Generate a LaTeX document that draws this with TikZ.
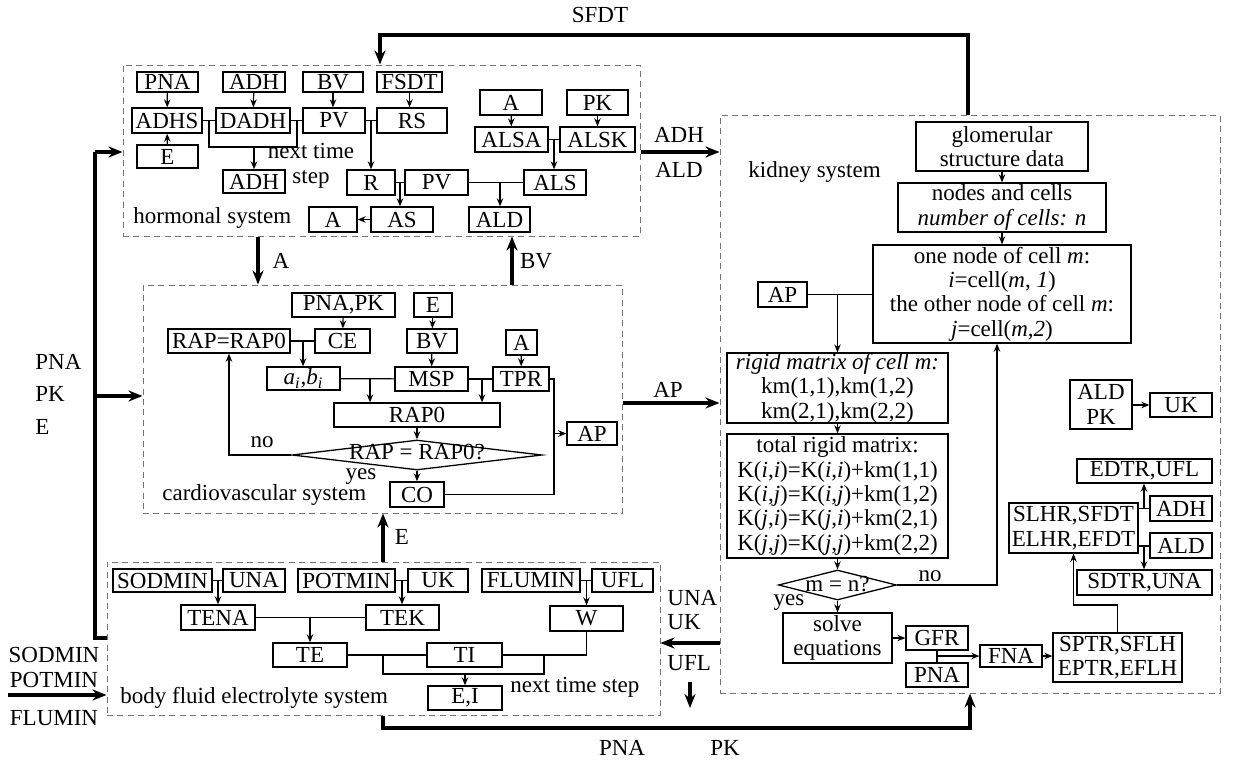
\documentclass[tikz,border=0pt]{standalone}
\usepackage{fontspec}
\setmainfont{Liberation Serif}
\usetikzlibrary{arrows.meta,shapes.geometric}
\newcommand\bx[6]{\node[bx, minimum width={(#4-#2)*0.5pt}, minimum height={(#5-#3)*0.5pt}] (#1) at ({(#2+#4)/2},{(#3+#5)/2}) {#6};}
\newcommand\fr[5]{\node[dbox, minimum width={(#4-#2)*0.5pt}, minimum height={(#5-#3)*0.5pt}] (#1) at ({(#2+#4)/2},{(#3+#5)/2}) {};}
\newcommand\ti[1]{\textit{#1}}
\begin{document}
\begin{tikzpicture}[x=0.5pt,y=-0.5pt,
  font=\fontsize{11.5}{12.2}\selectfont,
  bx/.style={draw, line width=0.65pt, inner sep=0pt, align=center},
  dbox/.style={draw=black!55, dash pattern=on 3pt off 2.2pt, line width=0.5pt, inner sep=0pt},
  ln/.style={line width=0.6pt},
  ar/.style={line width=0.6pt, -{Stealth[length=4pt,width=3.2pt]}},
  thk/.style={line width=1.9pt},
  tar/.style={line width=1.9pt, -{Stealth[length=7pt,width=5.5pt]}},
  lab/.style={inner sep=0pt, align=left}]
\useasboundingbox[fill=white] (0,0) rectangle (1242,766);

% ---------- frames ----------
\fr{hs}{123}{65}{640}{236}
\fr{cs}{143}{285}{622}{513}
\fr{bs}{107}{562}{660}{715}
\fr{ks}{720}{115}{1220}{693}

% ---------- hormonal system ----------
\bx{hPNA}{137}{72}{198}{92}{PNA}
\bx{hADH}{223}{72}{285}{92}{ADH}
\bx{hBV}{303}{72}{363}{92}{BV}
\bx{hFSDT}{377}{72}{442}{92}{FSDT}
\bx{hADHS}{132}{108}{202}{133}{ADHS}
\bx{hDADH}{216}{108}{290}{133}{DADH}
\bx{hPV}{303}{108}{365}{133}{PV}
\bx{hRS}{377}{108}{447}{133}{RS}
\bx{hE}{137}{145}{198}{168}{E}
\bx{hADHn}{223}{170}{285}{193}{ADH}
\bx{hR}{347}{170}{395}{195}{R}
\bx{hPVb}{405}{170}{468}{195}{PV}
\bx{hAS}{371}{207}{433}{232}{AS}
\bx{hA}{309}{207}{357}{232}{A}
\bx{hAt}{480}{90}{542}{115}{A}
\bx{hPK}{567}{90}{628}{115}{PK}
\bx{hALSA}{475}{127}{548}{152}{ALSA}
\bx{hALSK}{560}{127}{635}{152}{ALSK}
\bx{hALS}{524}{170}{586}{195}{ALS}
\bx{hALD}{469}{207}{530}{232}{ALD}
\node[lab, align=center] (hnext) at (311,166) {next time\\step};
\node[lab, anchor=west] (hname) at (133,218) {hormonal system};

\draw[ar] (hPNA) -- (hADHS);
\draw[ar] (hE) -- (hADHS);
\draw[ar] (hADH) -- (hDADH);
\draw[ar] (hBV.south) -- (hBV.south |- hPV.north);
\draw[ar] (hFSDT.south) -- (hFSDT.south |- hRS.north);
\draw[ln] (hADHS) -- (hDADH);
\draw[ln] (hDADH) -- (hPV);
\coordinate (hj1) at (209,120); \coordinate (hj2) at (297,120);
\draw[ln] (hj1) -- (209,147) -- (297,147) -- (hj2);
\draw[ar] (hADHn.north |- 0,147) -- (hADHn.north);
\draw[ln] (hPV) -- (hRS);
\coordinate (hj3) at (371,120);
\draw[ar] (hj3) -- (hR.north);
\draw[ln] (hR) -- (hPVb);
\coordinate (hj4) at (400,183);
\draw[ar] (hj4) -- (hAS.north -| hj4);
\draw[ar] (hAS) -- (hA);
\draw[ar] (hAt) -- (hALSA);
\draw[ar] (hPK) -- (hALSK);
\draw[ln] (hALSA) -- (hALSK);
\coordinate (hj5) at (554,140);
\draw[ar] (hj5) -- (hALS.north -| hj5);
\draw[ln] (hPVb) -- (hALS);
\coordinate (hj6) at (500,183);
\draw[ar] (hj6) -- (hALD.north -| hj6);

% ---------- cardiovascular system ----------
\bx{cPNAPK}{292}{293}{395}{317}{PNA,PK}
\bx{cCE}{315}{329}{370}{353}{CE}
\bx{cRAP}{168}{329}{290}{353}{RAP=RAP0}
\bx{cab}{267}{367}{340}{390}{\ti{a}\textsubscript{\ti{i}},\ti{b}\textsubscript{\ti{i}}}
\bx{cRAP0}{334}{403}{500}{427}{RAP0}
\bx{cE}{414}{293}{452}{317}{E}
\bx{cBV}{407}{329}{457}{353}{BV}
\bx{cMSP}{395}{367}{468}{391}{MSP}
\bx{cA}{506}{330}{537}{355}{A}
\bx{cTPR}{493}{367}{549}{391}{TPR}
\bx{cAP}{567}{422}{617}{445}{AP}
\bx{cCO}{390}{482}{444}{507}{CO}
\node[draw, diamond, line width=0.65pt, inner sep=0pt, minimum width=125pt, minimum height=15pt] (cD) at (417,455) {};
\node[lab] (cDt) at (417,452) {RAP = RAP0?};
\node[lab] (cno) at (262,442) {no};
\node[lab] (cyes) at (361,477) {yes};
\node[lab, anchor=west] (cname) at (162,495) {cardiovascular system};

\draw[ar] (cPNAPK) -- (cCE);
\draw[ar] (cE) -- (cBV);
\draw[ar] (cBV) -- (cMSP);
\draw[ar] (cA) -- (cTPR);
\draw[ln] (cRAP) -- (cCE);
\coordinate (cj1) at (303,341);
\draw[ar] (cj1) -- (cab.north -| cj1);
\draw[ln] (cab) -- (cMSP);
\coordinate (cj2) at (370,378);
\draw[ar] (cj2) -- (cRAP0.north -| cj2);
\draw[ln] (cMSP) -- (cTPR);
\coordinate (cj3) at (482,379);
\draw[ar] (cj3) -- (cRAP0.north -| cj3);
\draw[ar] (cRAP0) -- (cD);
\draw[ar] (cD) -- (cCO);
\draw[ar] (cD.west) -| (cRAP.south);
\draw[ln] (cTPR.east) -- (554,379) -- (554,494.5) -- (cCO.east);
\coordinate (cj4) at (554,433.5);
\draw[ar] (cj4) -- (cAP.west);

% ---------- body fluid electrolyte system ----------
\bx{bSOD}{113}{569}{212}{592}{SODMIN}
\bx{bUNA}{223}{569}{285}{592}{UNA}
\bx{bPOT}{298}{569}{395}{592}{POTMIN}
\bx{bUK}{408}{569}{468}{592}{UK}
\bx{bFLU}{482}{569}{580}{592}{FLUMIN}
\bx{bUFL}{592}{569}{653}{592}{UFL}
\bx{bTENA}{181}{605}{255}{630}{TENA}
\bx{bTEK}{366}{605}{439}{630}{TEK}
\bx{bW}{550}{606}{623}{631}{W}
\bx{bTE}{273}{643}{347}{667}{TE}
\bx{bTI}{427}{643}{502}{667}{TI}
\bx{bEI}{428}{686}{502}{710}{E,I}
\node[lab, anchor=west] (bname) at (120,698) {body fluid electrolyte system};
\node[lab, anchor=west] (bnext) at (510,687) {next time step};

\draw[ln] (bSOD) -- (bUNA);
\coordinate (bj1) at (218,580.5);
\draw[ar] (bj1) -- (bTENA.north);
\draw[ln] (bPOT) -- (bUK);
\coordinate (bj2) at (402,580.5);
\draw[ar] (bj2) -- (bTEK.north -| bj2);
\draw[ln] (bFLU) -- (bUFL);
\coordinate (bj3) at (586.5,580.5);
\draw[ar] (bj3) -- (bW.north);
\draw[ln] (bTENA) -- (bTEK);
\coordinate (bj4) at (310,617.5);
\draw[ar] (bj4) -- (bTE.north);
\draw[ln] (bTE) -- (bTI);
\draw[ln] (bW.south) -- (586.5,655) -- (bTI.east);
\draw[ln] (383,655) -- (383,674) -- (544,674) -- (544,655);
\coordinate (bj5) at (465,674);
\draw[ar] (bj5) -- (bEI.north);

% ---------- kidney system ----------
\bx{kGlo}{916}{122}{1088}{171}{glomerular\\structure data}
\bx{kNod}{898}{183}{1106}{232}{nodes and cells\\\ti{number of cells: n}}
\bx{kOne}{873}{245}{1131}{343}{one node of cell \ti{m}:\\\ti{i}=cell(\ti{m}, \ti{1})\\the other node of cell \ti{m}:\\\ti{j}=cell(\ti{m},\ti{2})}
\bx{kAP}{758}{282}{807}{307}{AP}
\bx{kRig}{727}{355}{948}{421}{\ti{rigid matrix of cell m:}\\km(1,1),km(1,2)\\km(2,1),km(2,2)}
\bx{kTot}{727}{434}{948}{558}{total rigid matrix:\\K(\ti{i},\ti{i})=K(\ti{i},\ti{i})+km(1,1)\\K(\ti{i},\ti{j})=K(\ti{i},\ti{j})+km(1,2)\\K(\ti{j},\ti{i})=K(\ti{j},\ti{i})+km(2,1)\\K(\ti{j},\ti{j})=K(\ti{j},\ti{j})+km(2,2)}
\node[draw, diamond, line width=0.65pt, inner sep=0pt, minimum width=59pt, minimum height=15pt] (kD) at (837.5,585) {};
\node[lab] (kDt) at (837.5,584) {m = n?};
\node[lab] (kno) at (930,576) {no};
\node[lab] (kyes) at (789,603) {yes};
\bx{kSol}{783}{613}{892}{663}{solve\\equations}
\bx{kGFR}{906}{626}{968}{650}{GFR}
\bx{kPNA}{906}{663}{968}{687}{PNA}
\bx{kFNA}{980}{645}{1042}{667}{FNA}
\bx{kSP}{1053}{633}{1182}{682}{SPTR,SFLH\\EPTR,EFLH}
\bx{kSL}{1009}{503}{1138}{553}{SLHR,SFDT\\ELHR,EFDT}
\bx{kED}{1077}{459}{1212}{483}{EDTR,UFL}
\bx{kADH}{1150}{496}{1212}{521}{ADH}
\bx{kALD}{1150}{533}{1212}{558}{ALD}
\bx{kSD}{1077}{570}{1212}{595}{SDTR,UNA}
\bx{kALDPK}{1070}{380}{1132}{429}{ALD\\PK}
\bx{kUK}{1150}{393}{1212}{417}{UK}
\node[lab, anchor=west] (kname) at (748,172) {kidney system};

\draw[ar] (kGlo.south) -- (kGlo.south |- kNod.north);
\draw[ar] (kNod.south) -- (kNod.south |- kOne.north);
\draw[ln] (kAP.east) -- (kAP.east -| kOne.west);
\coordinate (kj1) at (837.5,294.5);
\draw[ar] (kj1) -- (kRig.north);
\draw[ar] (kRig) -- (kTot);
\draw[ar] (kTot) -- (kD);
\draw[ar] (kD) -- (kSol);
\draw[ar] (kD.east) -- (997,585) -- (kOne.south -| 997,0);
\draw[ar] (kSol.east |- kGFR.west) -- (kGFR.west);
\draw[ln] (kGFR) -- (kPNA);
\coordinate (kj2) at (937,656);
\draw[ar] (kj2) -- (kFNA.west);
\draw[ar] (kFNA.east) -- (kFNA.east -| kSP.west);
\draw[ar] (kSP.north) -- (1117.5,605) -- (1073.5,605) -- (kSL.south);
\draw[ln] (kSL.east |- kADH.west) -- (kADH.west);
\coordinate (kj3) at (1144,508.5);
\draw[ar] (kj3) -- (kED.south -| kj3);
\draw[ln] (kSL.east |- 0,546) -- (kALD.west |- 0,546);
\coordinate (kj4) at (1144,546);
\draw[ar] (kj4) -- (kSD.north -| kj4);
\draw[ar] (kALDPK.east |- kUK.west) -- (kUK.west);

% ---------- connections between systems ----------
\draw[tar] (hs.south -| 258,0) -- (cs.north -| 258,0);
\node[lab] (lA) at (281,261) {A};
\draw[tar] (cs.north -| 512,0) -- (hs.south -| 512,0);
\node[lab] (lBV) at (536,261) {BV};
\draw[tar] (bs.north -| 383,0) -- (cs.south -| 383,0);
\node[lab] (lE) at (402,537) {E};
\draw[tar] (cs.east |- 0,403) -- (ks.west |- 0,403);
\node[lab] (lAP) at (668,390) {AP};
\draw[tar] (hs.east |- 0,152) -- (ks.west |- 0,152);
\node[lab] (lADH) at (679,135) {ADH};
\node[lab] (lALD) at (679,170) {ALD};
\draw[tar] (ks.west |- 0,643) -- (bs.east |- 0,643);
\node[lab, anchor=west] (lUNA) at (667,598) {UNA};
\node[lab, anchor=west] (lUK) at (667,622) {UK};
\node[lab, anchor=west] (lUFL) at (667,663) {UFL};
\coordinate (ufl1) at (690,682); \coordinate (ufl2) at (690,708);
\draw[tar] (ufl1) -- (ufl2);
% left bus
\draw[thk] (bs.west |- 0,638) -- (95,638) -- (95,152);
\draw[tar] (95,152) -- (hs.west |- 0,152);
\draw[tar] (95,396) -- (cs.west |- 0,396);
\node[lab, anchor=west] (lPNA) at (35,362) {PNA};
\node[lab, anchor=west] (lPK) at (35,394) {PK};
\node[lab, anchor=west] (lEl) at (35,427) {E};
% bottom-left input
\coordinate (inL) at (8,695);
\draw[tar] (inL) -- (bs.west |- inL);
\node[lab] (lSOD) at (54,655) {SODMIN};
\node[lab] (lPOT) at (54,680) {POTMIN};
\node[lab] (lFLU) at (54,718) {FLUMIN};
% SFDT
\draw[tar] (ks.north -| 968,0) -- (968,35) -- (380,35) -- (hs.north -| 380,0);
\node[lab] (lSFDT) at (600,15) {SFDT};
% bottom PNA PK
\draw[tar] (bs.south -| 383,0) -- (383,728) -- (970,728) -- (ks.south -| 970,0);
\node[lab] (lbPNA) at (622,748) {PNA};
\node[lab] (lbPK) at (725,748) {PK};
\end{tikzpicture}
\end{document}
